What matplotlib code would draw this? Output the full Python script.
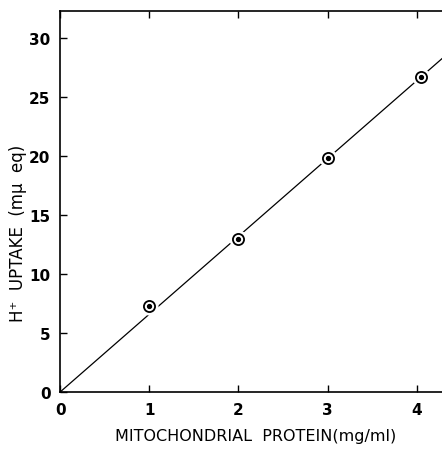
import matplotlib.pyplot as plt
import numpy as np

# data
protein = [1.0, 2.0, 3.0, 4.05]          # mg/ml
uptake = [7.3, 13.0, 19.8, 26.7]         # m-mu eq H+
fit_slope = 6.6                          # line drawn through origin
fit_x = [0.0, 4.6]

x_ticks = [0, 1, 2, 3, 4]
y_ticks = [0, 5, 10, 15, 20, 25, 30]

fig = plt.figure(figsize=(4.42, 4.52), dpi=100)
ax = fig.add_axes([0.136, 0.1305, 0.908, 0.843])

fit_y = [fit_slope * v for v in fit_x]
ax.plot(fit_x, fit_y, color="black", lw=0.9, zorder=2)

# white halo so the line breaks around each point, like the original
ax.plot(protein, uptake, "o", ms=12, color="white", zorder=3)
ax.plot(protein, uptake, "o", ms=8, mfc="white", mec="black", mew=1.3, zorder=4)
ax.plot(protein, uptake, "o", ms=2.8, color="black", zorder=5)

ax.set_xlim(0, 4.5)
ax.set_ylim(0, 32.3)
ax.set_xticks(x_ticks)
ax.set_yticks(y_ticks)
ax.set_xticklabels([str(t) for t in x_ticks], fontsize=11, fontweight="bold")
ax.set_yticklabels([str(t) for t in y_ticks], fontsize=11, fontweight="bold")
ax.tick_params(direction="in", length=5, width=1, top=True, right=True, pad=7)

for s in ax.spines.values():
    s.set_linewidth(1.2)

ax.set_xlabel("MITOCHONDRIAL  PROTEIN(mg/ml)", fontsize=11.5, va="center")
ax.xaxis.set_label_coords(0.486, -0.113)
ax.set_ylabel("H⁺  UPTAKE  (mμ  eq)", fontsize=12, va="center")
ax.yaxis.set_label_coords(-0.105, 0.42)

fig.savefig("out.png", dpi=100)
